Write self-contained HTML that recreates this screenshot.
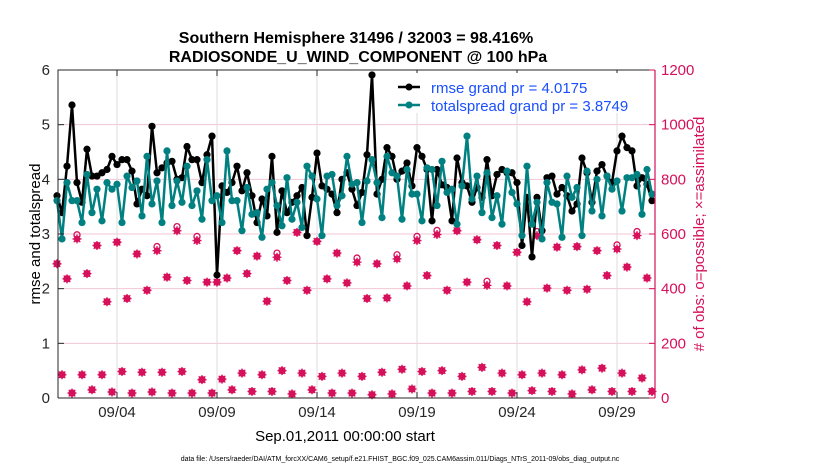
<!DOCTYPE html>
<html><head><meta charset="utf-8">
<style>
html,body{margin:0;padding:0;background:#fff;}
svg text{font-family:"Liberation Sans",Arial,sans-serif;}
</style></head>
<body>
<svg id="chart" width="830" height="470" viewBox="0 0 830 470" xmlns="http://www.w3.org/2000/svg">
<rect x="0" y="0" width="830" height="470" fill="#fff"/>
<g id="grid"></g>
<g id="obsmarks"></g>
<g id="lines"></g>
<g id="axes"></g>
<text x="356" y="43" font-size="16" font-weight="bold" text-anchor="middle">Southern Hemisphere 31496 / 32003 = 98.416%</text>
<text x="358" y="62" font-size="16" font-weight="bold" text-anchor="middle">RADIOSONDE_U_WIND_COMPONENT @ 100 hPa</text>
<text transform="translate(40,234) rotate(-90)" font-size="15" text-anchor="middle">rmse and totalspread</text>
<text transform="translate(704,234) rotate(-90)" font-size="15" fill="#d6105a" text-anchor="middle"># of obs: o=possible; ×=assimilated</text>
<text x="345" y="441" font-size="15" text-anchor="middle">Sep.01,2011 00:00:00 start</text>
<text x="400" y="461" font-size="7" text-anchor="middle">data file: /Users/raeder/DAI/ATM_forcXX/CAM6_setup/f.e21.FHIST_BGC.f09_025.CAM6assim.011/Diags_NTrS_2011-09/obs_diag_output.nc</text>
<g>
<rect x="384" y="73" width="268" height="40" fill="#fff"/>
<line x1="398" y1="87" x2="420" y2="87" stroke="#000" stroke-width="2.5"/>
<circle cx="409" cy="87" r="3.5" fill="#000"/>
<text x="431" y="93" font-size="15" fill="#1a4fff">rmse grand pr = 4.0175</text>
<line x1="398" y1="105" x2="420" y2="105" stroke="#008080" stroke-width="2.5"/>
<circle cx="409" cy="105" r="3.5" fill="#008080"/>
<text x="431" y="111" font-size="15" fill="#1a4fff">totalspread grand pr = 3.8749</text>
</g>
</svg>
<script>
const rmse = [3.70,3.39,4.24,5.36,3.94,3.58,4.55,4.06,4.06,4.12,4.18,4.42,4.27,4.36,4.36,4.15,3.55,3.82,3.70,4.97,4.12,4.21,4.30,4.33,4.0,4.03,4.6,4.36,4.36,3.94,4.45,4.79,
2.25,
3.88,3.76,3.94,4.24,3.79,4.12,3.70,3.21,3.64,3.33,4.42,3.03,3.79,3.39,3.58,3.70,3.85,2.97,3.67,4.48,3.88,3.82,3.73,3.39,4.0,4.12,3.82,3.52,
3.76,4.45,5.91,3.73,4.0,4.58,4.42,4.0,4.15,4.30,3.88,4.58,4.42,4.18,3.24,4.18,3.9,3.85,3.24,4.39,3.94,3.88,3.58,3.85,3.67,4.36,3.70,4.09,4.18,4.12,
4.12,3.94,2.79,3.67,2.58,3.67,3.06,4.03,4.06,3.73,3.85,3.70,3.42,3.55,4.39,4.12,3.58,4.15,4.27,4.06,3.94,4.52,4.79,4.58,4.52,3.88,4.03,3.91,3.61];
const spread = [3.61,2.91,3.94,3.61,3.61,3.21,4.09,3.39,3.82,3.24,3.94,3.82,3.91,3.21,4.06,3.85,3.97,3.33,4.42,3.55,3.97,3.21,4.52,3.52,3.97,3.58,4.24,3.52,3.79,3.27,4.36,
3.61,3.70,3.21,4.52,3.61,3.61,3.06,3.85,3.36,3.39,2.94,3.82,3.94,3.52,3.15,4.03,3.27,3.58,3.12,4.24,4.06,3.64,2.97,4.06,4.09,3.52,3.70,4.42,3.91,3.94,
3.21,3.97,4.36,3.94,3.30,4.42,4.12,4.06,3.27,4.18,3.73,3.73,3.24,4.21,4.18,3.52,4.33,3.76,3.82,3.18,3.88,4.79,3.64,4.06,3.39,4.12,3.30,3.70,3.18,4.15,
3.76,3.55,2.97,4.24,3.18,3.58,2.91,3.94,3.58,3.55,2.94,4.06,3.67,3.85,2.97,4.15,3.42,4.0,3.33,4.06,3.82,3.97,3.42,4.03,4.03,4.09,3.36,4.18,3.73];
const obsUsed = [491,85,436,18, 582,85,455,30, 558,85,352,22, 570,97,364,18, 527,94,394,22, 539,94,442,18, 612,97,430,18, 576,67,424,18,
424,69,439,30, 539,91,455,24, 519,85,354,24, 515,100,430,15, 606,91,394,30, 573,79,436,18, 530,91,421,18, 497,79,364,12,
491,94,366,15, 509,105,410,33, 576,97,448,18, 598,100,394,18, 612,79,424,24, 579,112,412,24, 558,91,410,18, 533,85,352,27,
594,91,402,24, 552,85,394,15, 554,103,398,30, 539,109,448,24, 545,91,479,24, 594,73,439,24];
const obsPoss = [491,85,436,18, 597,85,455,30, 558,85,352,22, 570,97,364,18, 527,94,394,22, 554,94,442,18, 627,97,430,18, 591,67,424,18,
424,69,439,30, 539,91,455,24, 519,85,354,24, 530,100,430,15, 606,91,394,30, 573,79,436,18, 530,91,421,18, 512,79,364,12,
491,94,366,15, 524,105,410,33, 591,97,448,18, 613,100,394,18, 612,79,424,24, 579,112,427,24, 558,91,410,18, 533,85,352,27,
609,91,402,24, 552,85,394,15, 554,103,398,30, 539,109,448,24, 560,91,479,24, 609,73,439,24];
const yTicks = [0,1,2,3,4,5,6];
const y2Ticks = [0,200,400,600,800,1000,1200];
const xTickDays = [3,8,13,18,23,28];
const xTickLabels = ["09/04","09/09","09/14","09/19","09/24","09/29"];

const NS="http://www.w3.org/2000/svg";
const L=58,R=655,T=70,B=398;
const xs=d=>57+d*20;
const ys=v=>B-(v/6)*(B-T);
const ys2=v=>B-(v/1200)*(B-T);
function mk(tag,attrs,parent){const e=document.createElementNS(NS,tag);for(const k in attrs)e.setAttribute(k,attrs[k]);parent.appendChild(e);return e;}
const grid=document.getElementById('grid'),axes=document.getElementById('axes'),lines=document.getElementById('lines'),om=document.getElementById('obsmarks');
const pink="#d6105a";
y2Ticks.forEach(v=>{if(v>0&&v<1200){const g=mk('line',{x1:L,x2:R,y1:ys2(v),y2:ys2(v),stroke:'#f3c6d6','stroke-width':1},grid);

}});
xTickDays.forEach(d=>{const g=mk('line',{x1:xs(d),x2:xs(d),y1:T,y2:B,stroke:'#dcdcdc','stroke-width':1},grid);

});
obsPoss.forEach((v,i)=>{const c=mk('circle',{cx:xs(i*0.25),cy:ys2(v),r:3,fill:'none',stroke:pink,'stroke-width':1.3},om);

});
obsUsed.forEach((v,i)=>{const x=xs(i*0.25),y=ys2(v);
const g=mk('g',{},om);


mk('circle',{cx:x,cy:y,r:3.3,fill:pink},g);
mk('path',{d:`M${x-4.5} ${y}H${x+4.5}M${x} ${y-4.5}V${y+4.5}M${x-3.3} ${y-3.3}L${x+3.3} ${y+3.3}M${x-3.3} ${y+3.3}L${x+3.3} ${y-3.3}`,stroke:pink,'stroke-width':1.3},g);});
function series(arr,color,name){
const pts=arr.map((v,i)=>xs(i*0.25).toFixed(1)+','+ys(v).toFixed(1)).join(' ');
const pl=mk('polyline',{points:pts,fill:'none',stroke:color,'stroke-width':2.5,'stroke-linejoin':'round'},lines);


arr.forEach((v,i)=>{const c=mk('circle',{cx:xs(i*0.25),cy:ys(v),r:3.6,fill:color},lines);

});
}
series(rmse,'#000','rmse');
series(spread,'#008080','totalspread');
const bx=mk('path',{d:`M${L} ${B}V${T}H${R}`,fill:'none',stroke:'#262626','stroke-width':1},axes);


const bl=mk('line',{x1:L,x2:R,y1:B,y2:B,stroke:'#262626','stroke-width':1},axes);


const ra=mk('line',{x1:R,x2:R,y1:T,y2:B,stroke:pink,'stroke-width':1.2},axes);


yTicks.forEach(v=>{mk('line',{x1:L,x2:L+6,y1:ys(v),y2:ys(v),stroke:'#262626'},axes);
const t=mk('text',{x:L-8,y:ys(v)+5,'font-size':15,'text-anchor':'end',fill:'#262626'},axes);t.textContent=v;

});
y2Ticks.forEach(v=>{mk('line',{x1:R-6,x2:R,y1:ys2(v),y2:ys2(v),stroke:pink},axes);
const t=mk('text',{x:R+6,y:ys2(v)+5,'font-size':15,fill:pink},axes);t.textContent=v;

});
xTickDays.forEach((d,i)=>{mk('line',{x1:xs(d),x2:xs(d),y1:B,y2:B-6,stroke:'#262626'},axes);mk('line',{x1:xs(d),x2:xs(d),y1:T,y2:T+6,stroke:'#262626'},axes);
const t=mk('text',{x:xs(d),y:B+19,'font-size':15,'text-anchor':'middle',fill:'#262626'},axes);t.textContent=xTickLabels[i];

});
</script>
</body></html>
